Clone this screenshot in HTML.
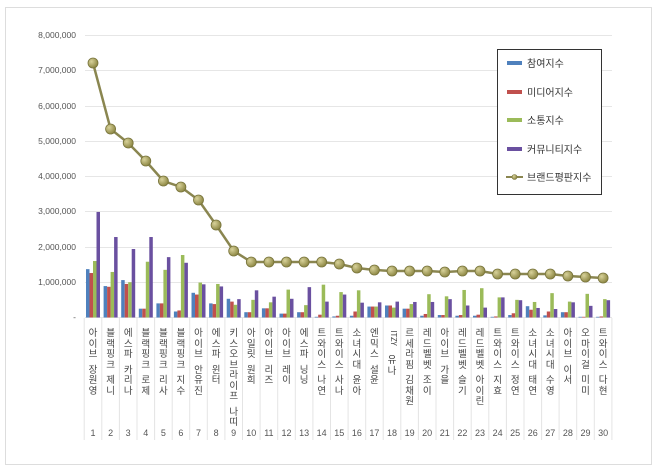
<!DOCTYPE html>
<html><head><meta charset="utf-8"><style>
body{margin:0;width:658px;height:473px;background:#fff;overflow:hidden;position:relative;font-family:"Liberation Sans","Noto Sans CJK KR",sans-serif}
.lb{position:absolute;top:327px;width:11px;margin-left:-5.5px;word-break:break-all;text-align:center;font-size:9.5px;color:#444;line-height:10.5px;font-family:"Noto Sans CJK KR","Liberation Sans",sans-serif}
.lb i{display:block;height:5px}
.n{position:absolute;top:428px;font-size:9px;color:#555;width:18px;text-align:center;margin-left:-9px}
.y{position:absolute;right:582px;font-size:8.5px;color:#555;text-align:right}
</style></head><body>
<svg width="658" height="473" style="position:absolute;left:0;top:0">
<defs><radialGradient id="g" cx="35%" cy="35%" r="70%"><stop offset="0" stop-color="#d8d29a"/><stop offset="1" stop-color="#8a8440"/></radialGradient></defs>
<rect x="5.5" y="7.5" width="646" height="457" fill="none" stroke="#ddd"/>
<g stroke="#e6e6e6" stroke-width="1">
<line x1="85" x2="612" y1="35.5" y2="35.5"/><line x1="85" x2="612" y1="70.5" y2="70.5"/><line x1="85" x2="612" y1="106.5" y2="106.5"/><line x1="85" x2="612" y1="141.5" y2="141.5"/><line x1="85" x2="612" y1="176.5" y2="176.5"/><line x1="85" x2="612" y1="211.5" y2="211.5"/><line x1="85" x2="612" y1="247.5" y2="247.5"/><line x1="85" x2="612" y1="282.5" y2="282.5"/><line x1="85" x2="612" y1="317.5" y2="317.5"/>
</g>
<g stroke="#e4e4e4">
<path d="M84.2 318V440M101.8 318V440M119.4 318V440M137 318V440M154.6 318V440M172.2 318V440M189.7 318V440M207.3 318V440M224.9 318V440M242.5 318V440M260.1 318V440M277.7 318V440M295.3 318V440M312.9 318V440M330.5 318V440M348.1 318V440M365.7 318V440M383.2 318V440M400.8 318V440M418.4 318V440M436 318V440M453.6 318V440M471.2 318V440M488.8 318V440M506.4 318V440M524 318V440M541.6 318V440M559.1 318V440M576.7 318V440M594.3 318V440M611.9 318V440"/>
</g>
<g>
<g transform="translate(93,317.5) scale(1,-35.3)"><rect x="-7" width="3.5" height="1.37" fill="#4f81bd"/><rect x="-3.5" width="3.5" height="1.26" fill="#c0504d"/><rect x="0" width="3.5" height="1.6" fill="#9bbb59"/><rect x="3.5" width="3.5" height="2.99" fill="#6a50a0"/></g>
<g transform="translate(110.6,317.5) scale(1,-35.3)"><rect x="-7" width="3.5" height=".89" fill="#4f81bd"/><rect x="-3.5" width="3.5" height=".87" fill="#c0504d"/><rect x="0" width="3.5" height="1.29" fill="#9bbb59"/><rect x="3.5" width="3.5" height="2.28" fill="#6a50a0"/></g>
<g transform="translate(128.2,317.5) scale(1,-35.3)"><rect x="-7" width="3.5" height="1.06" fill="#4f81bd"/><rect x="-3.5" width="3.5" height=".95" fill="#c0504d"/><rect x="0" width="3.5" height="1.0" fill="#9bbb59"/><rect x="3.5" width="3.5" height="1.94" fill="#6a50a0"/></g>
<g transform="translate(145.8,317.5) scale(1,-35.3)"><rect x="-7" width="3.5" height=".25" fill="#4f81bd"/><rect x="-3.5" width="3.5" height=".25" fill="#c0504d"/><rect x="0" width="3.5" height="1.58" fill="#9bbb59"/><rect x="3.5" width="3.5" height="2.28" fill="#6a50a0"/></g>
<g transform="translate(163.4,317.5) scale(1,-35.3)"><rect x="-7" width="3.5" height=".4" fill="#4f81bd"/><rect x="-3.5" width="3.5" height=".4" fill="#c0504d"/><rect x="0" width="3.5" height="1.35" fill="#9bbb59"/><rect x="3.5" width="3.5" height="1.71" fill="#6a50a0"/></g>
<g transform="translate(180.9,317.5) scale(1,-35.3)"><rect x="-7" width="3.5" height=".17" fill="#4f81bd"/><rect x="-3.5" width="3.5" height=".2" fill="#c0504d"/><rect x="0" width="3.5" height="1.77" fill="#9bbb59"/><rect x="3.5" width="3.5" height="1.55" fill="#6a50a0"/></g>
<g transform="translate(198.5,317.5) scale(1,-35.3)"><rect x="-7" width="3.5" height=".7" fill="#4f81bd"/><rect x="-3.5" width="3.5" height=".65" fill="#c0504d"/><rect x="0" width="3.5" height=".99" fill="#9bbb59"/><rect x="3.5" width="3.5" height=".94" fill="#6a50a0"/></g>
<g transform="translate(216.1,317.5) scale(1,-35.3)"><rect x="-7" width="3.5" height=".4" fill="#4f81bd"/><rect x="-3.5" width="3.5" height=".38" fill="#c0504d"/><rect x="0" width="3.5" height=".95" fill="#9bbb59"/><rect x="3.5" width="3.5" height=".88" fill="#6a50a0"/></g>
<g transform="translate(233.7,317.5) scale(1,-35.3)"><rect x="-7" width="3.5" height=".53" fill="#4f81bd"/><rect x="-3.5" width="3.5" height=".45" fill="#c0504d"/><rect x="0" width="3.5" height=".36" fill="#9bbb59"/><rect x="3.5" width="3.5" height=".52" fill="#6a50a0"/></g>
<g transform="translate(251.3,317.5) scale(1,-35.3)"><rect x="-7" width="3.5" height=".15" fill="#4f81bd"/><rect x="-3.5" width="3.5" height=".15" fill="#c0504d"/><rect x="0" width="3.5" height=".5" fill="#9bbb59"/><rect x="3.5" width="3.5" height=".77" fill="#6a50a0"/></g>
<g transform="translate(268.9,317.5) scale(1,-35.3)"><rect x="-7" width="3.5" height=".26" fill="#4f81bd"/><rect x="-3.5" width="3.5" height=".26" fill="#c0504d"/><rect x="0" width="3.5" height=".43" fill="#9bbb59"/><rect x="3.5" width="3.5" height=".59" fill="#6a50a0"/></g>
<g transform="translate(286.5,317.5) scale(1,-35.3)"><rect x="-7" width="3.5" height=".11" fill="#4f81bd"/><rect x="-3.5" width="3.5" height=".11" fill="#c0504d"/><rect x="0" width="3.5" height=".79" fill="#9bbb59"/><rect x="3.5" width="3.5" height=".53" fill="#6a50a0"/></g>
<g transform="translate(304.1,317.5) scale(1,-35.3)"><rect x="-7" width="3.5" height=".15" fill="#4f81bd"/><rect x="-3.5" width="3.5" height=".15" fill="#c0504d"/><rect x="0" width="3.5" height=".35" fill="#9bbb59"/><rect x="3.5" width="3.5" height=".86" fill="#6a50a0"/></g>
<g transform="translate(321.7,317.5) scale(1,-35.3)"><rect x="-7" width="3.5" height=".02" fill="#4f81bd"/><rect x="-3.5" width="3.5" height=".08" fill="#c0504d"/><rect x="0" width="3.5" height=".93" fill="#9bbb59"/><rect x="3.5" width="3.5" height=".45" fill="#6a50a0"/></g>
<g transform="translate(339.3,317.5) scale(1,-35.3)"><rect x="-7" width="3.5" height=".03" fill="#4f81bd"/><rect x="-3.5" width="3.5" height=".05" fill="#c0504d"/><rect x="0" width="3.5" height=".72" fill="#9bbb59"/><rect x="3.5" width="3.5" height=".65" fill="#6a50a0"/></g>
<g transform="translate(356.9,317.5) scale(1,-35.3)"><rect x="-7" width="3.5" height=".05" fill="#4f81bd"/><rect x="-3.5" width="3.5" height=".17" fill="#c0504d"/><rect x="0" width="3.5" height=".77" fill="#9bbb59"/><rect x="3.5" width="3.5" height=".42" fill="#6a50a0"/></g>
<g transform="translate(374.4,317.5) scale(1,-35.3)"><rect x="-7" width="3.5" height=".31" fill="#4f81bd"/><rect x="-3.5" width="3.5" height=".31" fill="#c0504d"/><rect x="0" width="3.5" height=".31" fill="#9bbb59"/><rect x="3.5" width="3.5" height=".43" fill="#6a50a0"/></g>
<g transform="translate(392,317.5) scale(1,-35.3)"><rect x="-7" width="3.5" height=".34" fill="#4f81bd"/><rect x="-3.5" width="3.5" height=".34" fill="#c0504d"/><rect x="0" width="3.5" height=".28" fill="#9bbb59"/><rect x="3.5" width="3.5" height=".45" fill="#6a50a0"/></g>
<g transform="translate(409.6,317.5) scale(1,-35.3)"><rect x="-7" width="3.5" height=".25" fill="#4f81bd"/><rect x="-3.5" width="3.5" height=".25" fill="#c0504d"/><rect x="0" width="3.5" height=".38" fill="#9bbb59"/><rect x="3.5" width="3.5" height=".44" fill="#6a50a0"/></g>
<g transform="translate(427.2,317.5) scale(1,-35.3)"><rect x="-7" width="3.5" height=".05" fill="#4f81bd"/><rect x="-3.5" width="3.5" height=".1" fill="#c0504d"/><rect x="0" width="3.5" height=".66" fill="#9bbb59"/><rect x="3.5" width="3.5" height=".44" fill="#6a50a0"/></g>
<g transform="translate(444.8,317.5) scale(1,-35.3)"><rect x="-7" width="3.5" height=".07" fill="#4f81bd"/><rect x="-3.5" width="3.5" height=".07" fill="#c0504d"/><rect x="0" width="3.5" height=".6" fill="#9bbb59"/><rect x="3.5" width="3.5" height=".52" fill="#6a50a0"/></g>
<g transform="translate(462.4,317.5) scale(1,-35.3)"><rect x="-7" width="3.5" height=".05" fill="#4f81bd"/><rect x="-3.5" width="3.5" height=".07" fill="#c0504d"/><rect x="0" width="3.5" height=".78" fill="#9bbb59"/><rect x="3.5" width="3.5" height=".34" fill="#6a50a0"/></g>
<g transform="translate(480,317.5) scale(1,-35.3)"><rect x="-7" width="3.5" height=".05" fill="#4f81bd"/><rect x="-3.5" width="3.5" height=".08" fill="#c0504d"/><rect x="0" width="3.5" height=".83" fill="#9bbb59"/><rect x="3.5" width="3.5" height=".28" fill="#6a50a0"/></g>
<g transform="translate(497.6,317.5) scale(1,-35.3)"><rect x="-7" width="3.5" height=".02" fill="#4f81bd"/><rect x="-3.5" width="3.5" height=".03" fill="#c0504d"/><rect x="0" width="3.5" height=".57" fill="#9bbb59"/><rect x="3.5" width="3.5" height=".57" fill="#6a50a0"/></g>
<g transform="translate(515.2,317.5) scale(1,-35.3)"><rect x="-7" width="3.5" height=".07" fill="#4f81bd"/><rect x="-3.5" width="3.5" height=".12" fill="#c0504d"/><rect x="0" width="3.5" height=".5" fill="#9bbb59"/><rect x="3.5" width="3.5" height=".49" fill="#6a50a0"/></g>
<g transform="translate(532.8,317.5) scale(1,-35.3)"><rect x="-7" width="3.5" height=".32" fill="#4f81bd"/><rect x="-3.5" width="3.5" height=".22" fill="#c0504d"/><rect x="0" width="3.5" height=".44" fill="#9bbb59"/><rect x="3.5" width="3.5" height=".27" fill="#6a50a0"/></g>
<g transform="translate(550.3,317.5) scale(1,-35.3)"><rect x="-7" width="3.5" height=".06" fill="#4f81bd"/><rect x="-3.5" width="3.5" height=".17" fill="#c0504d"/><rect x="0" width="3.5" height=".69" fill="#9bbb59"/><rect x="3.5" width="3.5" height=".24" fill="#6a50a0"/></g>
<g transform="translate(567.9,317.5) scale(1,-35.3)"><rect x="-7" width="3.5" height=".15" fill="#4f81bd"/><rect x="-3.5" width="3.5" height=".15" fill="#c0504d"/><rect x="0" width="3.5" height=".45" fill="#9bbb59"/><rect x="3.5" width="3.5" height=".43" fill="#6a50a0"/></g>
<g transform="translate(585.5,317.5) scale(1,-35.3)"><rect x="-7" width="3.5" height=".02" fill="#4f81bd"/><rect x="-3.5" width="3.5" height=".02" fill="#c0504d"/><rect x="0" width="3.5" height=".67" fill="#9bbb59"/><rect x="3.5" width="3.5" height=".33" fill="#6a50a0"/></g>
<g transform="translate(603.1,317.5) scale(1,-35.3)"><rect x="-7" width="3.5" height=".02" fill="#4f81bd"/><rect x="-3.5" width="3.5" height=".03" fill="#c0504d"/><rect x="0" width="3.5" height=".52" fill="#9bbb59"/><rect x="3.5" width="3.5" height=".49" fill="#6a50a0"/></g>
</g>
<polyline fill="none" stroke="#8a8650" stroke-width="2.5" points="93,63 110.6,129 128.2,143 145.8,161 163.4,181 180.9,187 198.5,200 216.1,225 233.7,251 251.3,262 268.9,262 286.5,262 304.1,262 321.7,262 339.3,264 356.9,268 374.4,270 392,271 409.6,271 427.2,271 444.8,272 462.4,271 480,271 497.6,274 515.2,274 532.8,274 550.3,274 567.9,276 585.5,277 603.1,278"/>
<g fill="url(#g)" stroke="#77733a" stroke-width=".8">
<circle cx="93" cy="63" r="5"/><circle cx="110.6" cy="129" r="5"/><circle cx="128.2" cy="143" r="5"/><circle cx="145.8" cy="161" r="5"/><circle cx="163.4" cy="181" r="5"/><circle cx="180.9" cy="187" r="5"/><circle cx="198.5" cy="200" r="5"/><circle cx="216.1" cy="225" r="5"/><circle cx="233.7" cy="251" r="5"/><circle cx="251.3" cy="262" r="5"/><circle cx="268.9" cy="262" r="5"/><circle cx="286.5" cy="262" r="5"/><circle cx="304.1" cy="262" r="5"/><circle cx="321.7" cy="262" r="5"/><circle cx="339.3" cy="264" r="5"/><circle cx="356.9" cy="268" r="5"/><circle cx="374.4" cy="270" r="5"/><circle cx="392" cy="271" r="5"/><circle cx="409.6" cy="271" r="5"/><circle cx="427.2" cy="271" r="5"/><circle cx="444.8" cy="272" r="5"/><circle cx="462.4" cy="271" r="5"/><circle cx="480" cy="271" r="5"/><circle cx="497.6" cy="274" r="5"/><circle cx="515.2" cy="274" r="5"/><circle cx="532.8" cy="274" r="5"/><circle cx="550.3" cy="274" r="5"/><circle cx="567.9" cy="276" r="5"/><circle cx="585.5" cy="277" r="5"/><circle cx="603.1" cy="278" r="5"/>
</g>
<rect x="497.5" y="49.5" width="104" height="145" fill="#fff" stroke="#333"/>
<rect x="507" y="61" width="15" height="4" fill="#4f81bd"/>
<rect x="507" y="90" width="15" height="4" fill="#c0504d"/>
<rect x="507" y="118" width="15" height="4" fill="#9bbb59"/>
<rect x="507" y="147" width="15" height="4" fill="#6a50a0"/>
<line x1="506" x2="523" y1="177" y2="177" stroke="#8a8650" stroke-width="2"/><circle cx="514.5" cy="177" r="2.5" fill="url(#g)" stroke="#77733a" stroke-width=".6"/>
<g font-family="Noto Sans CJK KR, Liberation Sans, sans-serif" font-size="10" fill="#333">
<text x="527" y="67">참여지수</text><text x="527" y="96">미디어지수</text><text x="527" y="124">소통지수</text><text x="527" y="153">커뮤니티지수</text><text x="527" y="181">브랜드평판지수</text>
</g>
</svg>
<div class="y" style="top:30px">8,000,000</div>
<div class="y" style="top:65px">7,000,000</div>
<div class="y" style="top:101px">6,000,000</div>
<div class="y" style="top:136px">5,000,000</div>
<div class="y" style="top:171px">4,000,000</div>
<div class="y" style="top:206px">3,000,000</div>
<div class="y" style="top:242px">2,000,000</div>
<div class="y" style="top:277px">1,000,000</div>
<div class="y" style="top:312px">-</div>
<div class="lb" style="left:93px">아이브<i></i>장원영</div>
<div class="lb" style="left:110.6px">블랙핑크<i></i>제니</div>
<div class="lb" style="left:128.2px">에스파<i></i>카리나</div>
<div class="lb" style="left:145.8px">블랙핑크<i></i>로제</div>
<div class="lb" style="left:163.4px">블랙핑크<i></i>리사</div>
<div class="lb" style="left:180.9px">블랙핑크<i></i>지수</div>
<div class="lb" style="left:198.5px">아이브<i></i>안유진</div>
<div class="lb" style="left:216.1px">에스파<i></i>윈터</div>
<div class="lb" style="left:233.7px">키스오브라이프<i></i>나띠</div>
<div class="lb" style="left:251.3px">아일릿<i></i>원희</div>
<div class="lb" style="left:268.9px">아이브<i></i>리즈</div>
<div class="lb" style="left:286.5px">아이브<i></i>레이</div>
<div class="lb" style="left:304.1px">에스파<i></i>닝닝</div>
<div class="lb" style="left:321.7px">트와이스<i></i>나연</div>
<div class="lb" style="left:339.3px">트와이스<i></i>사나</div>
<div class="lb" style="left:356.9px">소녀시대<i></i>윤아</div>
<div class="lb" style="left:374.4px">엔믹스<i></i>설윤</div>
<div class="lb" style="left:392px"><span style="display:block;transform:rotate(90deg);transform-origin:center;height:22px;line-height:22px;width:22px;margin-left:-5px;font-size:8px">ITZY</span><i></i>유나</div>
<div class="lb" style="left:409.6px">르세라핌<i></i>김채원</div>
<div class="lb" style="left:427.2px">레드벨벳<i></i>조이</div>
<div class="lb" style="left:444.8px">아이브<i></i>가을</div>
<div class="lb" style="left:462.4px">레드벨벳<i></i>슬기</div>
<div class="lb" style="left:480px">레드벨벳<i></i>아이린</div>
<div class="lb" style="left:497.6px">트와이스<i></i>지효</div>
<div class="lb" style="left:515.2px">트와이스<i></i>정연</div>
<div class="lb" style="left:532.8px">소녀시대<i></i>태연</div>
<div class="lb" style="left:550.3px">소녀시대<i></i>수영</div>
<div class="lb" style="left:567.9px">아이브<i></i>이서</div>
<div class="lb" style="left:585.5px">오마이걸<i></i>미미</div>
<div class="lb" style="left:603.1px">트와이스<i></i>다현</div>
<div class="n" style="left:93px">1</div><div class="n" style="left:110.6px">2</div><div class="n" style="left:128.2px">3</div><div class="n" style="left:145.8px">4</div><div class="n" style="left:163.4px">5</div><div class="n" style="left:180.9px">6</div><div class="n" style="left:198.5px">7</div><div class="n" style="left:216.1px">8</div><div class="n" style="left:233.7px">9</div><div class="n" style="left:251.3px">10</div><div class="n" style="left:268.9px">11</div><div class="n" style="left:286.5px">12</div><div class="n" style="left:304.1px">13</div><div class="n" style="left:321.7px">14</div><div class="n" style="left:339.3px">15</div><div class="n" style="left:356.9px">16</div><div class="n" style="left:374.4px">17</div><div class="n" style="left:392px">18</div><div class="n" style="left:409.6px">19</div><div class="n" style="left:427.2px">20</div><div class="n" style="left:444.8px">21</div><div class="n" style="left:462.4px">22</div><div class="n" style="left:480px">23</div><div class="n" style="left:497.6px">24</div><div class="n" style="left:515.2px">25</div><div class="n" style="left:532.8px">26</div><div class="n" style="left:550.3px">27</div><div class="n" style="left:567.9px">28</div><div class="n" style="left:585.5px">29</div><div class="n" style="left:603.1px">30</div>
</body></html>
